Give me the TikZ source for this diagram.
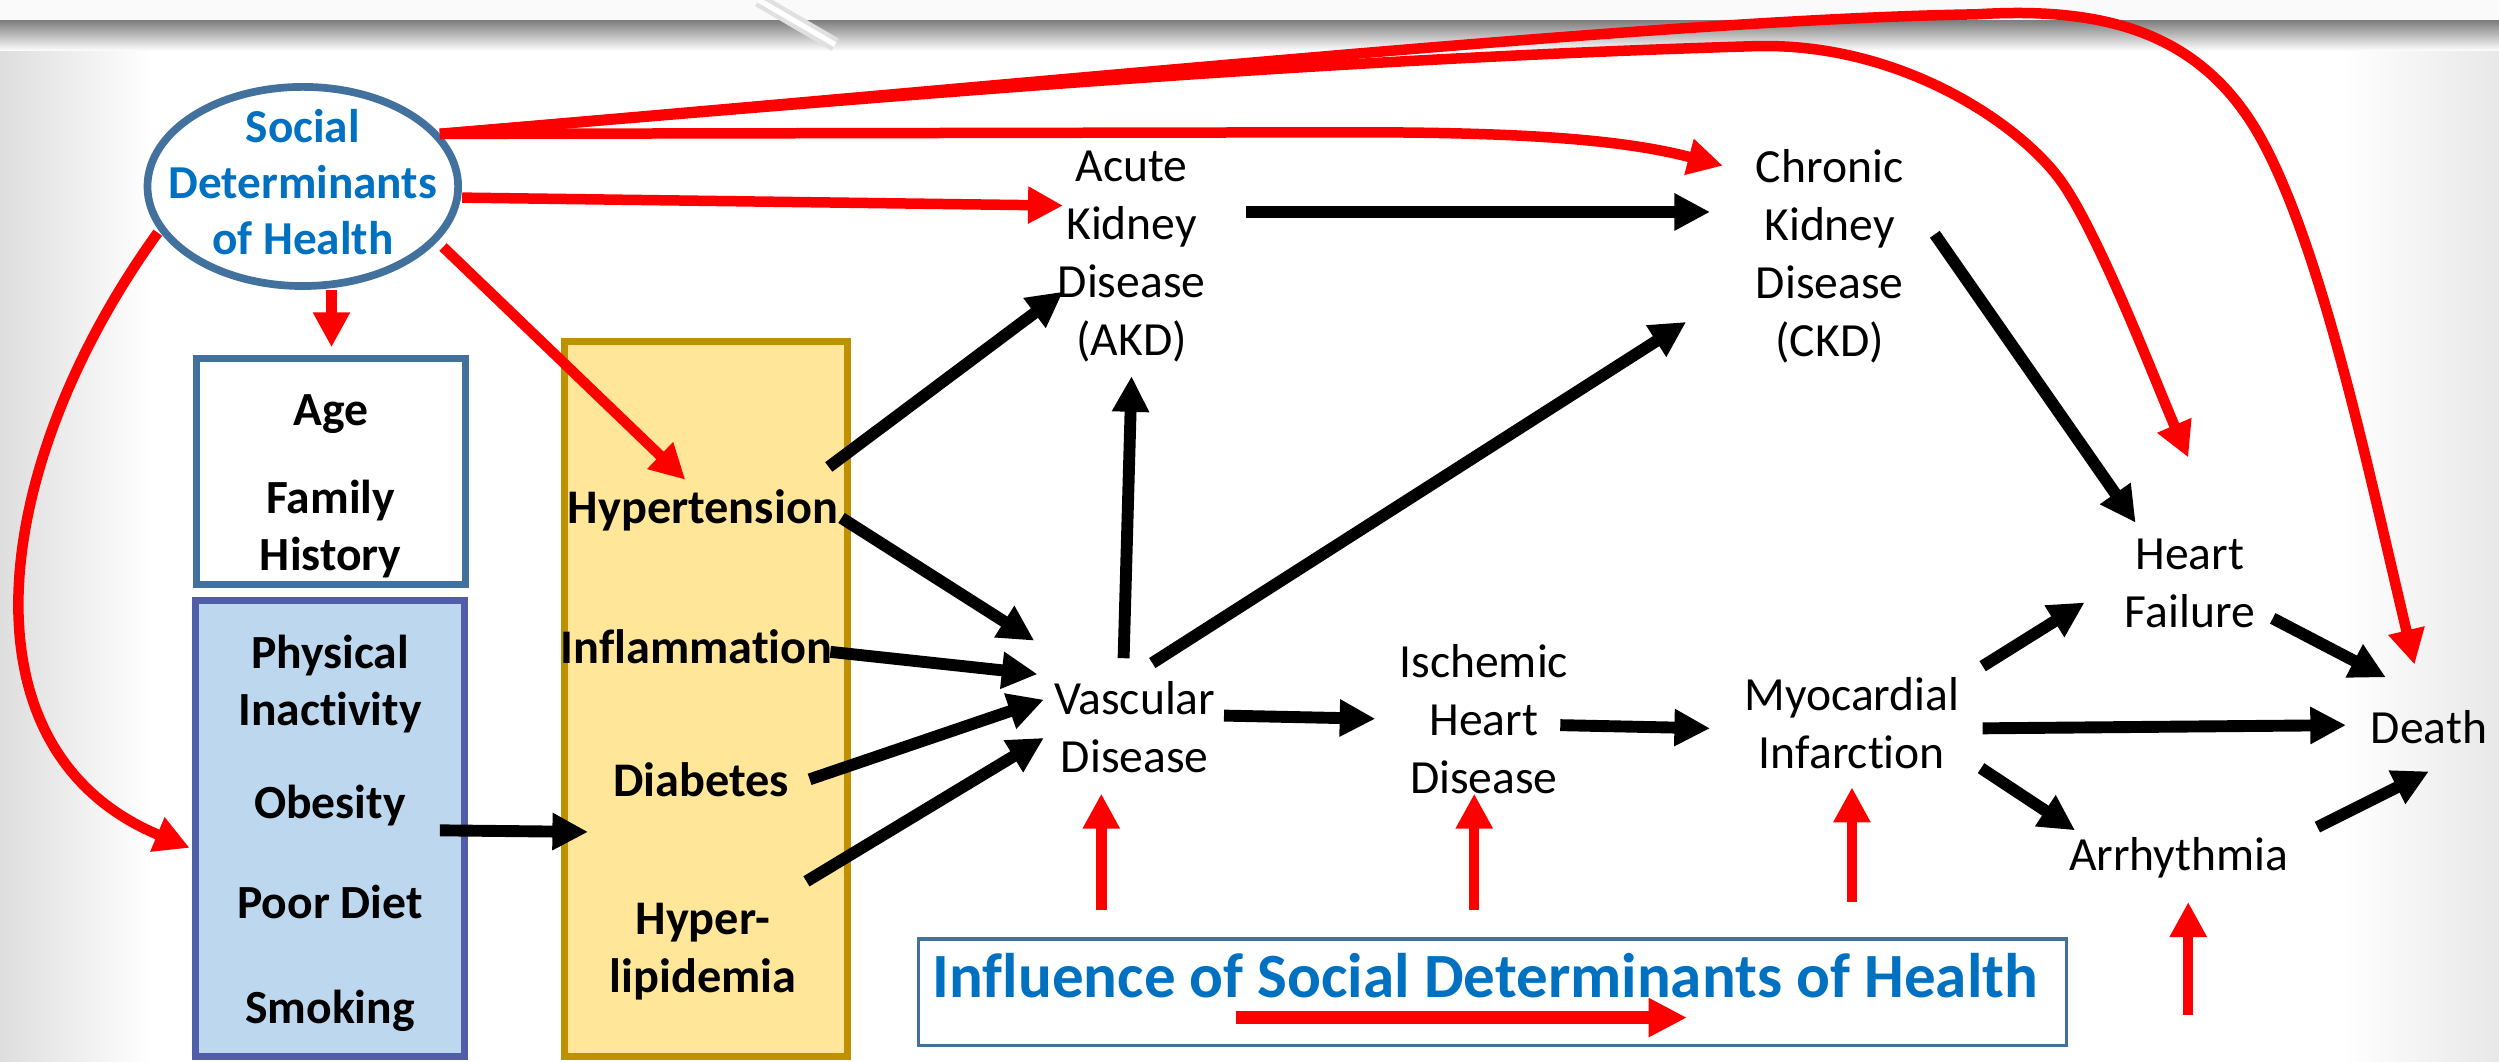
\documentclass[tikz,border=0pt]{standalone}
\usepackage{fontspec}
\setmainfont{Carlito}[Ligatures=NoCommon]
\usetikzlibrary{arrows.meta,shapes.geometric,calc}

\begin{document}
\begin{tikzpicture}[x=0.016cm,y=-0.016cm,
 font=\fontsize{13.6}{16.6}\selectfont,
 cause/.style={line width=3.4pt,-{Triangle[length=10.2pt,width=10pt]}},
 sdh/.style={sdhred,line width=3pt,-{Triangle[length=10pt,width=10pt]}},
 dis/.style={align=center,inner sep=1pt},
 factor/.style={align=center,inner sep=1pt,font=\fontsize{13.8}{16.4}\selectfont\bfseries},
 panel/.style={draw,line width=2pt,inner sep=0pt}]
\definecolor{boxblue}{RGB}{65,113,156}
\definecolor{sdhblue}{RGB}{0,112,192}
\definecolor{sdhred}{RGB}{255,0,0}
\definecolor{lifeedge}{RGB}{82,93,170}
\definecolor{lifefill}{RGB}{189,215,238}
\definecolor{riskedge}{RGB}{191,144,0}
\definecolor{riskfill}{RGB}{255,230,153}
\useasboundingbox (0,0) rectangle (1568,666);
% slide background
\fill[white] (0,0) rectangle (1568,666);
\shade[left color=black!13,right color=white] (0,25) rectangle (95,666);
\shade[left color=white,right color=black!9] (1470,25) rectangle (1568,666);
\fill[black!2] (0,0) rectangle (1568,13);
\shade[top color=black!50,bottom color=white] (0,13) rectangle (1568,32);
\draw[black!12,line width=4pt] (476,0) -- (500,14) -- (524,28);
\draw[white,line width=1.5pt] (476,0) -- (500,14) -- (524,28);

\node[ellipse,draw=boxblue,line width=2.2pt,fill=white,minimum width=3.12cm,
 minimum height=2cm,inner sep=0pt] (sdoh) at (190,117) {};
\node[align=center,text=sdhblue,font=\fontsize{13.5}{16}\selectfont\bfseries]
 (sdohlbl) at ($(sdoh)+(0,-3)$) {Social\\Determinants\\of Health};

\node[panel,draw=boxblue,fill=white,minimum width=2.7cm,minimum height=2.27cm]
 (age) at (207.5,296) {};
\node[align=center,font=\fontsize{13.6}{16.4}\selectfont\bfseries] (agelbl)
 at ($(age)+(0,9)$) {Age\\[8.7pt]Family\\History};
\node[panel,draw=lifeedge,fill=lifefill,minimum width=2.7cm,minimum height=4.58cm]
 (life) at (207,520) {};
\node[align=center,font=\fontsize{13.6}{16.4}\selectfont\bfseries] (lifelbl)
 at ($(life)+(0,3)$)
 {Physical\\Inactivity\\[10pt]Obesity\\[12.3pt]Poor Diet\\[13.7pt]Smoking};
\node[panel,draw=riskedge,fill=riskfill,minimum width=2.85cm,minimum height=7.18cm]
 (risk) at (443,438.5) {};

\node[factor] (hyp) at (441,320) {Hypertension};
\node[factor] (infl) at (437,406) {Inflammation};
\node[factor] (diab) at (440,489) {Diabetes};
\node[factor] (lipid) at (441,597) {Hyper-\\lipidemia};

\node[dis] (akd) at (710,161) {Acute\\Kidney\\Disease\\(AKD)};
\node[dis] (ckd) at (1148,161) {Chronic\\Kidney\\Disease\\(CKD)};
\node[dis] (vasc) at (712,456) {Vascular\\Disease};
\node[dis] (isch) at (931,451) {Ischemic\\Heart\\Disease};
\node[dis] (mi) at (1162,454) {Myocardial\\Infarction};
\node[dis] (hf) at (1374,366) {Heart\\Failure};
\node[dis] (arr) at (1367,538) {Arrhythmia};
\node[dis] (death) at (1524,456) {Death};

\node[draw=boxblue,line width=1pt,fill=white,minimum width=11.53cm,
 minimum height=1.07cm,inner sep=0pt] (legend) at (936.5,622.5) {};
\node[text=sdhblue,font=\fontsize{18}{20}\selectfont\bfseries,inner sep=0pt]
 (legendlbl) at (932,612) {Influence of Social Determinants of Health};
\draw[sdh,line width=3.6pt,-{Triangle[length=11pt,width=10.5pt]}]
 ($(legend)+(-161,16)$) -- ($(legend)+(122,16)$);

% disease pathway
\draw[cause] ($(hyp)+(79,-27)$) -- ($(akd)+(-43,22)$);
\draw[cause] ($(hyp)+(87,5)$) -- ($(vasc)+(-63,-54)$);
\draw[cause] ($(infl)+(84,3)$) -- ($(vasc)+(-61,-33)$);
\draw[cause] ($(diab)+(68,0)$) -- ($(vasc)+(-57,-17)$);
\draw[cause] ($(lipid)+(65,-44)$) -- ($(vasc)+(-57,7)$);
\draw[cause] ($(life)+(69,1)$) -- ($(risk)+(-74,83.5)$);
\draw[cause] ($(vasc)+(-7,-43)$) -- ($(akd)+(0,75)$);
\draw[cause] ($(vasc)+(11,-40)$) -- ($(ckd)+(-90,41)$);
\draw[cause] ($(akd)+(72,-28)$) -- ($(ckd)+(-75,-28)$);
\draw[cause] ($(vasc)+(56,-7)$) -- ($(isch)+(-68,0)$);
\draw[cause] ($(isch)+(48,4)$) -- ($(mi)+(-89,3)$);
\draw[cause] ($(ckd)+(66,-14)$) -- ($(hf)+(-34,-38)$);
\draw[cause] ($(mi)+(82,-36)$) -- ($(hf)+(-66,12)$);
\draw[cause] ($(mi)+(82,3)$) -- ($(death)+(-52,-1)$);
\draw[cause] ($(mi)+(81,28)$) -- ($(arr)+(-65,-17)$);
\draw[cause] ($(hf)+(52,22)$) -- ($(death)+(-27,-31)$);
\draw[cause] ($(arr)+(87,-19)$) -- ($(death)+(0,28)$);

% social determinants
\draw[sdh] ($(sdoh)+(18,65)$) -- ($(age.north)+(0.5,-5)$);
\draw[sdh] ($(sdoh)+(88,38)$) -- ($(hyp)+(-11,-19)$);
\draw[sdh] ($(sdoh)+(100,7)$) -- ($(akd)+(-43,-32)$);
\draw[sdh] ($(sdoh)+(86,-33)$) -- (850,83)
 .. controls (960,83) and (1020,88) .. ($(ckd)+(-67,-57)$);
\draw[sdh] ($(sdoh)+(86,-33)$) .. controls (520,64) and (800,38) .. (1100,29)
 .. controls (1190,26) and (1265,76) .. (1292,112)
 .. controls (1316,144) and (1353,241) .. ($(hf)+(-1,-79)$);
\draw[sdh] ($(sdoh)+(86,-33)$) .. controls (700,48) and (1050,12) .. (1240,9)
 .. controls (1320,4) and (1380,20) .. (1417,84)
 .. controls (1457,154) and (1487,300) .. ($(death)+(-9,-39)$);
\draw[sdh] ($(sdoh)+(-91,29)$) .. controls (-5,290) and (-30,470)
 .. ($(life)+(-88,12)$);
\coordinate (upvasc) at (691,571);
\coordinate (upisch) at (925,571);
\coordinate (upmi) at (1162,566);
\coordinate (uparr) at (1373,637);
\draw[sdh] (upvasc) -- ($(vasc)+(-21,42)$);
\draw[sdh] (upisch) -- ($(isch)+(-6,47)$);
\draw[sdh] (upmi) -- ($(mi)+(0,40)$);
\draw[sdh] (uparr) -- ($(arr)+(6,28)$);
\end{tikzpicture}
\end{document}
